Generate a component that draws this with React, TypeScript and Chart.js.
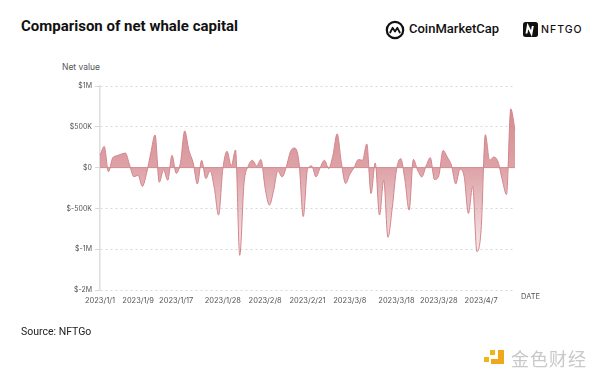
import React, { useEffect, useRef } from 'react';
import { Chart, registerables } from 'chart.js';

Chart.register(...registerables);

// Net whale capital, in thousands of USD, one value per category step
const netValuesK = [
  150, 260, -50, 120, 145, 165, 178, 30, -112, -94,
  -230, -70, 180, 400, -180, -30, -155, 150, -70, 60,
  450, 210, 60, -200, 90, -134, -40, -250, -582, -20,
  200, 20, 216, -1150, -200, 20, 90, 20, 100, -250,
  -460, -280, -40, -114, 10, 200, 240, 60, -600, -20,
  20, -114, 0, 90, -12, 150, 415, 60, -195, -80,
  0, 98, 90, 290, -317, 57, -582, -155, -855, -500,
  -30, 110, -150, -521, 100, -30, -114, 20, 122, -147,
  -100, 210, 130, 28, -200, -20, -110, -562, -230, -1060,
  -760, 403, 90, 130, 70, -150, -330, 720, 464,
];

const tickIndices = [0, 9, 18, 29, 39, 49, 59, 70, 80, 90];
const tickLabels = [
  '2023/1/1', '2023/1/9', '2023/1/17', '2023/1/28', '2023/2/8',
  '2023/2/21', '2023/3/8', '2023/3/18', '2023/3/28', '2023/4/7',
];

const yTickValues = [2, 1, 0, -1, -2, -3];
const yTickLabels = ['$1M', '$500K', '$0', '$-500K', '$-1M', '$-2M'];

// piecewise axis: 500K per step down to -1M, then 1M per step
function toAxis(vK: number): number {
  return vK >= -1000 ? vK / 500 : -2 + (vK + 1000) / 1000;
}

const xTickFont = { family: 'Inter, Lato, sans-serif', size: 7.5 };
const yTickFont = { family: 'Inter, Lato, sans-serif', size: 7 };

export default function App() {
  const canvasRef = useRef<HTMLCanvasElement | null>(null);

  useEffect(() => {
    const canvas = canvasRef.current;
    if (!canvas) return;

    const zeroLine = {
      id: 'zeroLine',
      afterDatasetsDraw(chart: any) {
        const { ctx, chartArea, scales } = chart;
        const y = scales.y.getPixelForValue(0);
        ctx.save();
        ctx.strokeStyle = '#d58a90';
        ctx.lineWidth = 1;
        ctx.beginPath();
        ctx.moveTo(chartArea.left, y);
        ctx.lineTo(chartArea.right, y);
        ctx.stroke();
        ctx.restore();
      },
    };

    const chart = new Chart(canvas, {
      type: 'line',
      data: {
        labels: netValuesK.map((_, i) => String(i)),
        datasets: [
          {
            data: netValuesK.map(toAxis),
            borderColor: '#d3858c',
            borderWidth: 1,
            pointRadius: 0,
            cubicInterpolationMode: 'monotone',
            fill: 'origin',
            backgroundColor: (c: any) => {
              const { chart: ch } = c;
              const ca = ch.chartArea;
              if (!ca) return 'rgba(210,130,136,0.6)';
              const g = ch.ctx.createLinearGradient(0, ca.top, 0, ca.bottom);
              g.addColorStop(0, 'rgba(205,118,125,0.9)');
              g.addColorStop(0.4, 'rgba(205,118,125,0.68)');
              g.addColorStop(0.8, 'rgba(205,118,125,0.18)');
              g.addColorStop(1, 'rgba(205,118,125,0.05)');
              return g;
            },
          },
        ],
      },
      options: {
        animation: false,
        responsive: false,
        maintainAspectRatio: false,
        layout: { padding: { left: 0, right: 85, top: 86, bottom: 66 } },
        plugins: { legend: { display: false }, tooltip: { enabled: false } },
        scales: {
          x: {
            type: 'category',
            offset: false,
            grid: { display: false },
            border: { display: false },
            afterFit: (s: any) => { s.height = 20; },
            ticks: {
              autoSkip: false,
              maxRotation: 0,
              minRotation: 0,
              padding: -2,
              color: '#555',
              font: xTickFont,
              callback: (_v: any, index: number) => {
                const k = tickIndices.indexOf(index);
                return k >= 0 ? tickLabels[k] : null;
              },
            },
          },
          y: {
            type: 'linear',
            min: -3,
            max: 2,
            afterFit: (s: any) => { s.width = 100; },
            grid: {
              color: '#d8d8d8',
              lineWidth: 1,
              drawTicks: true,
              tickLength: 5,
              tickColor: '#d8d8d8',
            },
            border: { display: true, color: '#dddddd', width: 1.5, dash: [2, 3] },
            ticks: {
              stepSize: 1,
              padding: 3,
              color: '#555',
              font: yTickFont,
              callback: (v: any) => {
                const i = yTickValues.indexOf(Number(v));
                return i >= 0 ? yTickLabels[i] : '';
              },
            },
          },
        },
      },
      plugins: [zeroLine],
    } as any);

    return () => chart.destroy();
  }, []);

  return (
    <div style={{ position: 'fixed', left: 0, top: 0, width: 600, height: 376, background: '#fff', overflow: 'hidden', fontFamily: 'Inter, Roboto, sans-serif' }}>
      <div style={{ position: 'absolute', left: 21, top: 17, fontSize: 15, fontWeight: 700, color: '#111', fontFamily: 'Roboto, Inter, sans-serif', whiteSpace: 'nowrap' }}>
        Comparison of net whale capital
      </div>

      {/* CoinMarketCap logo */}
      <svg style={{ position: 'absolute', left: 385, top: 20 }} width={20} height={20} viewBox="0 0 20 20">
        <circle cx={10} cy={10} r={8.2} fill="none" stroke="#111" strokeWidth={2.2} />
        <path d="M5.2 12.5 L7.6 7.8 L10 11.5 L12.4 7.8 L14.8 12.5" fill="none" stroke="#111" strokeWidth={1.8} strokeLinejoin="round" strokeLinecap="round" />
      </svg>
      <div style={{ position: 'absolute', left: 409, top: 21, fontSize: 13, fontWeight: 500, color: '#111', fontFamily: 'Roboto, sans-serif', whiteSpace: 'nowrap' }}>
        CoinMarketCap
      </div>

      {/* NFTGO logo */}
      <svg style={{ position: 'absolute', left: 523, top: 22 }} width={15} height={15} viewBox="0 0 15 15">
        <rect x={0} y={0} width={15} height={15} rx={2.5} fill="#111" />
        <path d="M4 11.5 V4 L9 11.5 V4" fill="none" stroke="#fff" strokeWidth={2} transform="skewX(-10) translate(1.5 0)" />
      </svg>
      <div style={{ position: 'absolute', left: 541, top: 23, fontSize: 10.5, fontWeight: 500, color: '#111', letterSpacing: 1, fontFamily: 'Inter, sans-serif', whiteSpace: 'nowrap' }}>
        NFTGO
      </div>

      <div style={{ position: 'absolute', left: 62, top: 62, fontSize: 8.5, color: '#555', whiteSpace: 'nowrap' }}>
        Net value
      </div>

      <canvas ref={canvasRef} width={600} height={376} style={{ position: 'absolute', left: 0, top: 0, width: 600, height: 376 }} />

      <div style={{ position: 'absolute', left: 521, top: 292, fontSize: 7.5, color: '#555', whiteSpace: 'nowrap' }}>
        DATE
      </div>

      <div style={{ position: 'absolute', left: 21, top: 325, fontSize: 10.5, color: '#222', fontFamily: 'Roboto, sans-serif', whiteSpace: 'nowrap' }}>
        Source: NFTGo
      </div>

      {/* watermark */}
      <svg style={{ position: 'absolute', left: 484, top: 350 }} width={22} height={15} viewBox="0 0 22 15">
        <rect x={0} y={7} width={5} height={5} fill="#f3b31a" />
        <rect x={6} y={0} width={5} height={5} fill="#f3b31a" />
        <path d="M14 0 H20 V14 H7 V9 H14 Z" fill="#f0a81b" />
      </svg>
      <div style={{ position: 'absolute', left: 511, top: 345, fontSize: 18, color: '#c9c9c9', fontFamily: '"Noto Sans CJK SC", sans-serif', whiteSpace: 'nowrap', letterSpacing: 1 }}>
        金色财经
      </div>
    </div>
  );
}
